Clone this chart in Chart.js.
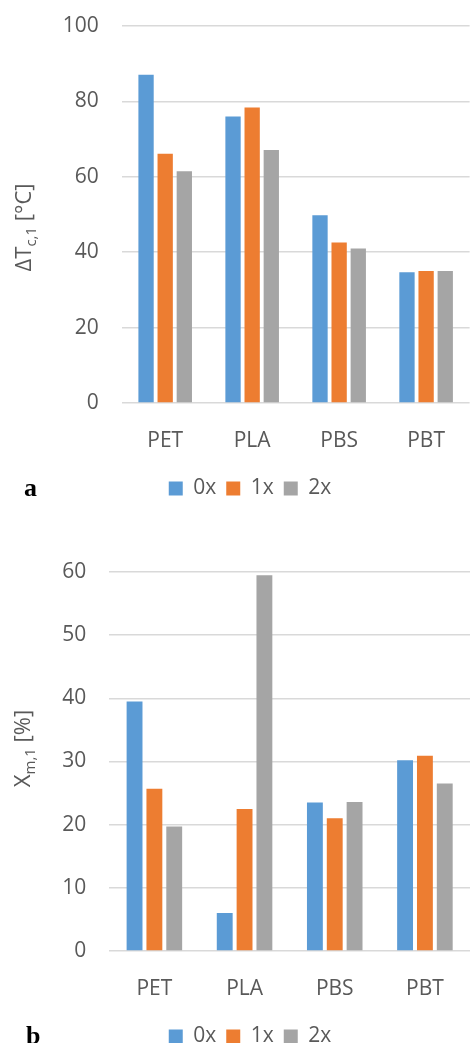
<!DOCTYPE html>
<html>
<head>
<meta charset="utf-8">
<script src="https://cdn.jsdelivr.net/npm/chart.js@4.4.1/dist/chart.umd.min.js"></script>
<style>
  html, body { margin: 0; padding: 0; background: #fff; overflow: hidden; width: 470px; height: 1043px; }
  .wrap { position: absolute; left: 0; width: 470px; }
  #wa { top: 0; height: 520px; }
  #wb { top: 520px; height: 546px; }
  .panel { position: absolute; font-family: "Liberation Serif", "DejaVu Serif", serif; font-weight: bold; font-size: 26px; color: #000; }
</style>
</head>
<body>
<div class="wrap" id="wa"><canvas id="ca"></canvas></div>
<div class="wrap" id="wb"><canvas id="cb"></canvas></div>
<div class="panel" style="left:24px; top:473px;">a</div>
<div class="panel" style="left:26px; top:1021px;">b</div>
<script>
const categories = ['PET', 'PLA', 'PBS', 'PBT'];
const seriesNames = ['0x', '1x', '2x'];
const seriesColors = ['#5B9BD5', '#ED7D31', '#A5A5A5'];

// Panel a: ΔTc,1 [°C]
const dTc_0x = [87.1, 76.0, 49.8, 34.7];
const dTc_1x = [66.1, 78.4, 42.6, 35.0];
const dTc_2x = [61.5, 67.1, 41.0, 35.0];
const ticksA = [0, 20, 40, 60, 80, 100];

// Panel b: Xm,1 [%]
const xm_0x = [39.5, 6.0, 23.5, 30.2];
const xm_1x = [25.7, 22.5, 21.0, 30.9];
const xm_2x = [19.7, 59.5, 23.6, 26.5];
const ticksB = [0, 10, 20, 30, 40, 50, 60];

const FONT = '"Open Sans", "DejaVu Sans", sans-serif';
const TXT = '#595959';
const FS = 21;

const yTitlePlugin = {
  id: 'yTitle',
  afterDraw(chart, args, opts) {
    const {ctx, chartArea} = chart;
    const cy = (chartArea.top + chartArea.bottom) / 2 + (opts.dy || 0);
    ctx.save();
    ctx.translate(opts.x, cy);
    ctx.rotate(-Math.PI / 2);
    ctx.fillStyle = TXT;
    ctx.textBaseline = 'middle';
    ctx.textAlign = 'left';
    const big = '22px ' + FONT, small = '15px ' + FONT;
    let total = 0;
    const parts = opts.parts.map(p => {
      ctx.font = p.sub ? small : big;
      const w = ctx.measureText(p.t).width;
      total += w;
      return {t: p.t, sub: p.sub, w};
    });
    let x = -total / 2;
    parts.forEach(p => {
      ctx.font = p.sub ? small : big;
      ctx.fillText(p.t, x, p.sub ? 7 : 0);
      x += p.w;
    });
    ctx.restore();
  }
};

function makeChart(id, vals, tickVals, yWidth, padTop, padBottom, titleParts, titleX, titleDy) {
  const datasets = seriesNames.map((n, i) => ({
    label: n,
    data: vals[i],
    backgroundColor: seriesColors[i],
    borderWidth: 0,
    categoryPercentage: 0.66,
    barPercentage: 0.8
  }));
  const tmin = tickVals[0], tmax = tickVals[tickVals.length - 1];
  const step = tickVals[1] - tickVals[0];
  return new Chart(document.getElementById(id), {
    type: 'bar',
    data: { labels: categories, datasets },
    plugins: [yTitlePlugin],
    options: {
      responsive: true,
      maintainAspectRatio: false,
      animation: false,
      layout: { padding: { top: padTop, left: 30, right: 0, bottom: padBottom } },
      plugins: {
        tooltip: { enabled: false },
        yTitle: { parts: titleParts, x: titleX, dy: titleDy },
        legend: {
          position: 'bottom',
          labels: {
            boxWidth: 14, boxHeight: 14, padding: 10,
            color: TXT, font: { family: FONT, size: FS }
          }
        }
      },
      scales: {
        x: {
          grid: { display: false, drawTicks: false },
          border: { display: false },
          ticks: { color: TXT, font: { family: FONT, size: FS }, padding: 25 },
          afterFit(s) { s.height = 65; }
        },
        y: {
          min: tmin, max: tmax,
          grid: { color: '#D9D9D9', lineWidth: 1.5, drawTicks: false },
          border: { display: false },
          ticks: {
            stepSize: step, color: TXT, font: { family: FONT, size: FS }, padding: 23,
            callback: v => tickVals.includes(v) ? String(v) : ''
          },
          afterFit(s) { s.width = yWidth; s.paddingTop = 0; s.paddingBottom = 0; }
        }
      }
    }
  });
}

makeChart('ca', [dTc_0x, dTc_1x, dTc_2x], ticksA, 91.7, 26, 11,
  [{t: 'ΔT'}, {t: 'c,1', sub: true}, {t: ' [°C]'}], 25, 13);
makeChart('cb', [xm_0x, xm_1x, xm_2x], ticksB, 79.3, 52, 9,
  [{t: 'X'}, {t: 'm,1', sub: true}, {t: ' [%]'}], 24, -13);
</script>
</body>
</html>
